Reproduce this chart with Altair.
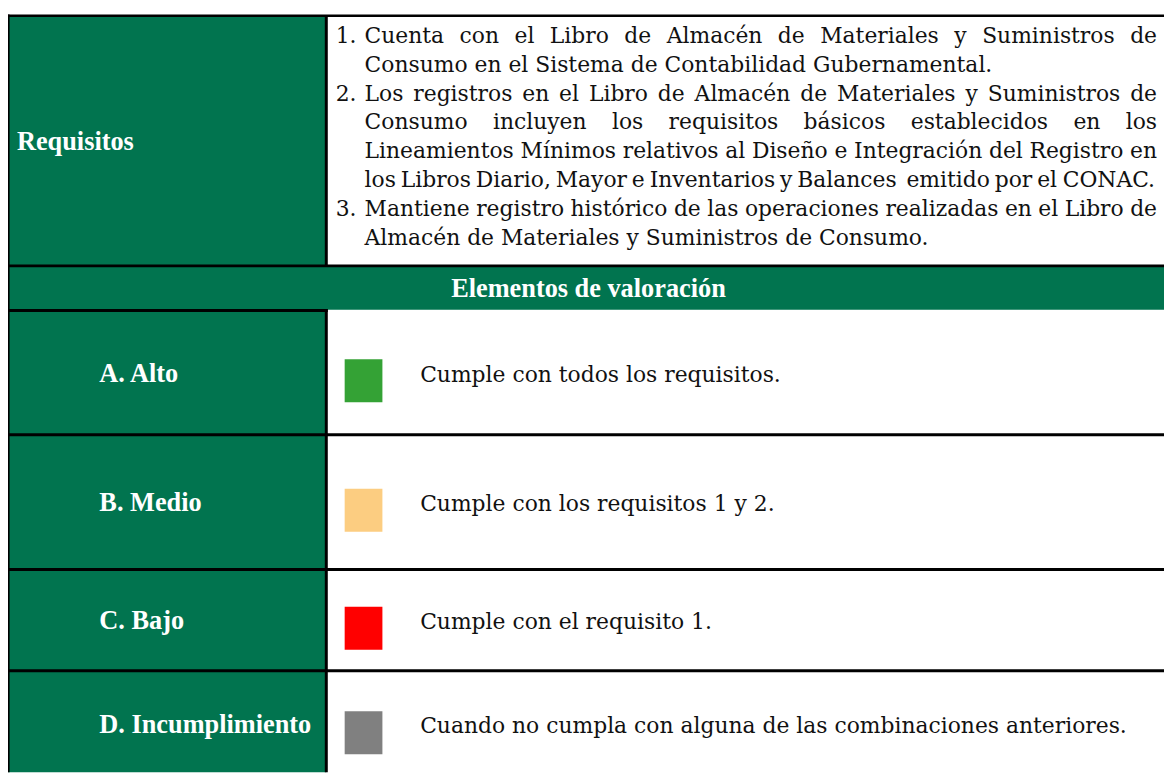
import re
import altair as alt
import pandas as pd

# ---------------- content ----------------
row_header = "Requisitos"
section_title = "Elementos de valoración"
req_numbers = ["1.", "2.", "3."]
req_item_1 = ["Cuenta con el Libro de Almacén de Materiales y Suministros de",
              "Consumo en el Sistema de Contabilidad Gubernamental."]
req_item_2 = ["Los registros en el Libro de Almacén de Materiales y Suministros de",
              "Consumo incluyen los requisitos básicos establecidos en los",
              "Lineamientos Mínimos relativos al Diseño e Integración del Registro en",
              "los Libros Diario, Mayor e Inventarios y Balances  emitido por el CONAC."]
req_item_3 = ["Mantiene registro histórico de las operaciones realizadas en el Libro de",
              "Almacén de Materiales y Suministros de Consumo."]
# lines that run to the right edge of the cell (justified)
req_full_lines = [[True, False], [True, True, True, True], [True, False]]
levels = ["A. Alto", "B. Medio", "C. Bajo", "D. Incumplimiento"]
level_desc = ["Cumple con todos los requisitos.",
              "Cumple con los requisitos 1 y 2.",
              "Cumple con el requisito 1.",
              "Cuando no cumpla con alguna de las combinaciones anteriores."]
level_colors = ["#34a235", "#fccd81", "#ff0000", "#808080"]

# ---------------- style / layout ----------------
GREEN = "#01744f"
BODY_FONT = "DejaVu Serif"
BODY_SIZE = 22
LABEL_FONT = "Liberation Serif"
LABEL_SIZE = 26.5
W, H = 1164, 767

COL = 320.5               # column divider (centre)
TOP = 5.25                # top border
REQ_BOTTOM = 257.0        # border under requisitos
HEAD_BOTTOM = 301.3       # bottom of green header band
ROW_EDGES = [302.0, 427.0, 562.7, 664.7, 773.0]
TXT_LEFT, NUM_LEFT, TXT_RIGHT = 359.0, 330.0, 1157.0
LINE0, LINE_STEP = 32.3, 29.1

# approximate advance widths (em) of DejaVu Serif
CW = {' ': .318, ',': .318, '.': .318, '0': .636, '1': .636, '2': .636, '3': .636,
      'A': .722, 'B': .735, 'C': .765, 'D': .802, 'E': .730, 'F': .694, 'G': .799,
      'H': .872, 'I': .395, 'J': .401, 'K': .747, 'L': .664, 'M': 1.024, 'N': .875,
      'O': .820, 'P': .696, 'Q': .820, 'R': .753, 'S': .685, 'T': .667, 'U': .843,
      'a': .596, 'b': .640, 'c': .560, 'd': .640, 'e': .592, 'f': .370, 'g': .640,
      'h': .644, 'i': .320, 'j': .310, 'k': .606, 'l': .320, 'm': .948, 'n': .644,
      'o': .602, 'p': .640, 'q': .640, 'r': .478, 's': .513, 't': .402, 'u': .644,
      'v': .565, 'w': .856, 'x': .564, 'y': .565, 'z': .527,
      'á': .596, 'é': .592, 'í': .320, 'ó': .602, 'ñ': .644}


def text_width(s):
    return sum(CW.get(c, .6) for c in s) * BODY_SIZE


def justify(line, left, right, y):
    parts = re.split(r'( +)', line)
    words = parts[0::2]
    gaps = [len(g) for g in parts[1::2]]
    ww = [text_width(w) for w in words]
    space = (right - left - sum(ww)) / max(1, sum(gaps))
    out = []
    x = left
    for i, w in enumerate(words):
        if i == 0:
            out.append((w, x, y, "left"))
        elif i == len(words) - 1:
            out.append((w, right, y, "right"))
        else:
            out.append((w, x + ww[i] / 2, y, "center"))
        x += ww[i] + (space * gaps[i] if i < len(gaps) else 0)
    return out


# ---------------- build tables ----------------
rects = []
# green fills
rects.append(dict(x=0, x2=COL, y=TOP, y2=H, fill=GREEN))
rects.append(dict(x=0, x2=W, y=REQ_BOTTOM, y2=HEAD_BOTTOM, fill=GREEN))
# borders
B = 1.5
rects.append(dict(x=0, x2=1.6, y=TOP - 1.25, y2=H, fill="black"))
rects.append(dict(x=0, x2=W, y=TOP - 1.25, y2=TOP + 1.25, fill="black"))
rects.append(dict(x=0, x2=W, y=REQ_BOTTOM - B, y2=REQ_BOTTOM + B, fill="black"))
rects.append(dict(x=COL - B, x2=COL + B, y=TOP, y2=REQ_BOTTOM, fill="black"))
rects.append(dict(x=0, x2=COL + B, y=ROW_EDGES[0] - B, y2=ROW_EDGES[0] + B, fill="black"))
rects.append(dict(x=COL - B, x2=COL + B, y=ROW_EDGES[0] - B, y2=H, fill="black"))
for e in ROW_EDGES[1:-1]:
    rects.append(dict(x=0, x2=W, y=e - B, y2=e + B, fill="black"))
# coloured squares
centers = [(ROW_EDGES[i] + ROW_EDGES[i + 1]) / 2 for i in range(len(levels))]
for lev, c, col in zip(levels, centers, level_colors):
    rects.append(dict(x=339, x2=377, y=c - 13.5, y2=c + 29.8, fill=col))
rect_df = pd.DataFrame(rects)

# bold white labels
labels = [dict(text=row_header, x=9, y=(TOP + REQ_BOTTOM) / 2 + 9, align="left")]
labels.append(dict(text=section_title, x=584.5, y=(REQ_BOTTOM + HEAD_BOTTOM) / 2 + 9.5, align="center"))
for lev, c in zip(levels, centers):
    labels.append(dict(text=lev, x=92, y=c + 9, align="left"))
label_df = pd.DataFrame(labels)

# body text
body = []
line_idx = 0
for num, item, full in zip(req_numbers, [req_item_1, req_item_2, req_item_3], req_full_lines):
    for j, line in enumerate(item):
        y = LINE0 + LINE_STEP * line_idx
        if j == 0:
            body.append((num, NUM_LEFT, y, "left"))
        if full[j]:
            body.extend(justify(line, TXT_LEFT, TXT_RIGHT - (2 if j == len(item) - 1 else 0), y))
        else:
            body.append((line, TXT_LEFT, y, "left"))
        line_idx += 1
for d, c in zip(level_desc, centers):
    body.append((d, 415, c + 9, "left"))
body_df = pd.DataFrame(body, columns=["text", "x", "y", "align"])

# ---------------- chart ----------------
xs = alt.Scale(domain=[0, W], range=[0, W], nice=False, zero=False)
ys = alt.Scale(domain=[0, H], range=[0, H], nice=False, zero=False)

rect_layer = alt.Chart(rect_df).mark_rect(strokeWidth=0).encode(
    x=alt.X("x:Q", scale=xs, axis=None), x2="x2:Q",
    y=alt.Y("y:Q", scale=ys, axis=None), y2="y2:Q",
    color=alt.Color("fill:N", scale=None),
)

layers = [rect_layer]
for al in ["left", "center"]:
    sub = label_df[label_df["align"] == al]
    layers.append(alt.Chart(sub).mark_text(
        align=al, baseline="alphabetic", font=LABEL_FONT, fontSize=LABEL_SIZE,
        fontWeight="bold", color="white").encode(
        x=alt.X("x:Q", scale=xs, axis=None), y=alt.Y("y:Q", scale=ys, axis=None),
        text="text:N"))
for al in ["left", "center", "right"]:
    sub = body_df[body_df["align"] == al]
    layers.append(alt.Chart(sub).mark_text(
        align=al, baseline="alphabetic", font=BODY_FONT, fontSize=BODY_SIZE,
        color="#111111").encode(
        x=alt.X("x:Q", scale=xs, axis=None), y=alt.Y("y:Q", scale=ys, axis=None),
        text="text:N"))

chart = alt.layer(*layers).properties(
    width=W, height=H, padding=0, background="white",
    autosize=alt.AutoSizeParams(type="none"),
).configure_view(stroke=None)

chart.save("out.html", embed_options={"renderer": "svg", "actions": False})
